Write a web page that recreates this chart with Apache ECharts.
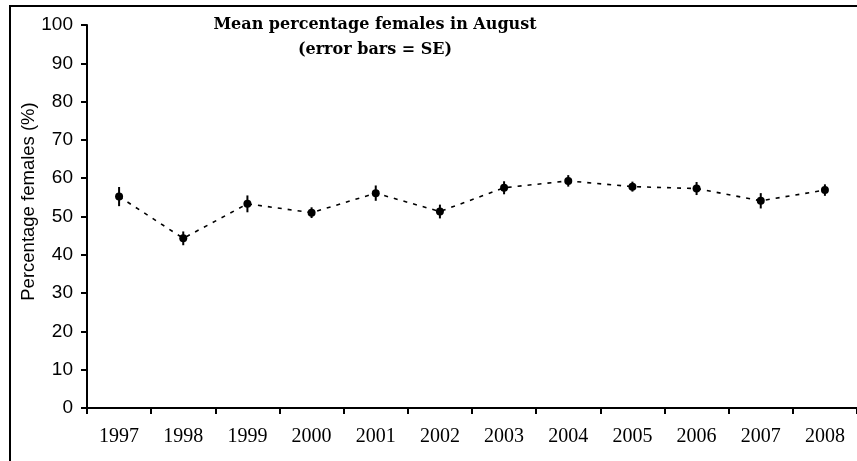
<!DOCTYPE html>
<html>
<head>
<meta charset="utf-8">
<script src="https://cdn.jsdelivr.net/npm/echarts@6/dist/echarts.min.js"></script>
<style>
  html, body { margin: 0; padding: 0; background: #fff; overflow: hidden; }
  #chart { width: 857px; height: 461px; }
</style>
</head>
<body>
<div id="chart"></div>
<script>
// data
const years = ['1997', '1998', '1999', '2000', '2001', '2002', '2003', '2004', '2005', '2006', '2007', '2008'];
const meanFemales = [55.2, 44.3, 53.3, 51.0, 56.1, 51.3, 57.5, 59.3, 57.8, 57.3, 54.1, 56.9];
const seFemales = [2.5, 1.8, 2.2, 1.4, 2.0, 1.8, 1.7, 1.5, 1.3, 1.7, 2.0, 1.5];
const yTicks = [0, 10, 20, 30, 40, 50, 60, 70, 80, 90, 100];

const chart = echarts.init(document.getElementById('chart'));

// error bars: low / high per year
const errData = years.map((y, i) => [i, meanFemales[i] - seFemales[i], meanFemales[i] + seFemales[i]]);

const option = {
  backgroundColor: '#fff',
  animation: false,
  title: {
    text: 'Mean percentage females in August\n(error bars = SE)',
    left: 370,
    top: 7,
    textAlign: 'center',
    textStyle: {
      fontFamily: 'DejaVu Serif',
      fontWeight: 'bold',
      fontSize: 16,
      lineHeight: 25,
      color: '#000'
    }
  },
  graphic: [
    {
      type: 'rect',
      shape: { x: 10, y: 6, width: 900, height: 500 },
      style: { fill: null, stroke: '#000', lineWidth: 2 },
      silent: true,
      z: -1
    }
  ],
  grid: {
    left: 87,
    right: -11,
    top: 25,
    bottom: 53
  },
  xAxis: {
    type: 'category',
    data: years,
    boundaryGap: true,
    axisLine: { lineStyle: { color: '#000', width: 2 } },
    axisTick: { show: true, length: 6, lineStyle: { color: '#000', width: 2 } },
    axisLabel: {
      color: '#000',
      fontFamily: 'Liberation Serif',
      fontSize: 20,
      margin: 19
    },
    splitLine: { show: false }
  },
  yAxis: {
    type: 'value',
    min: yTicks[0],
    max: yTicks[yTicks.length - 1],
    interval: 10,
    name: 'Percentage females (%)',
    nameLocation: 'middle',
    nameGap: 49,
    nameMoveOverlap: false,
    nameTextStyle: {
      color: '#000',
      fontFamily: 'Liberation Sans',
      fontSize: 18.5,
      padding: [0, 0, 0, 30]
    },
    axisLine: { show: true, lineStyle: { color: '#000', width: 2 } },
    axisTick: { show: true, length: 6, lineStyle: { color: '#000', width: 2 } },
    axisLabel: {
      color: '#000',
      fontFamily: 'Liberation Sans',
      fontSize: 19,
      margin: 14
    },
    splitLine: { show: false }
  },
  series: [
    {
      name: 'Mean',
      type: 'line',
      data: meanFemales,
      symbol: 'circle',
      symbolSize: 8,
      itemStyle: { color: '#000' },
      lineStyle: { color: '#000', width: 1.6, type: [4, 6] },
      z: 3
    },
    {
      name: 'SE',
      type: 'custom',
      data: errData,
      renderItem: (params, api) => {
        const lo = api.coord([api.value(0), api.value(1)]);
        const hi = api.coord([api.value(0), api.value(2)]);
        return {
          type: 'line',
          shape: { x1: lo[0], y1: lo[1], x2: hi[0], y2: hi[1] },
          style: { stroke: '#000', lineWidth: 2 }
        };
      },
      encode: { x: 0, y: [1, 2] },
      z: 4
    }
  ]
};

chart.setOption(option);
</script>
</body>
</html>
